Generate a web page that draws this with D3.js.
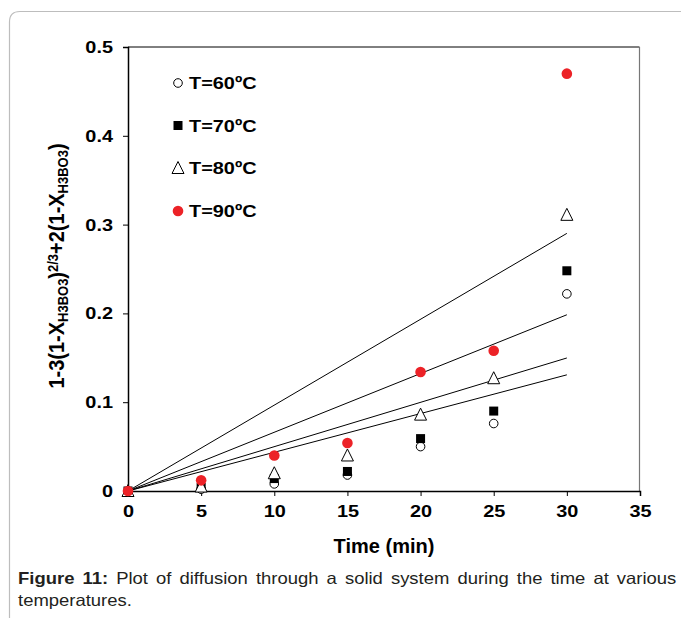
<!DOCTYPE html>
<html>
<head>
<meta charset="utf-8">
<script src="https://cdn.jsdelivr.net/npm/d3@7"></script>
<style>
  body { margin: 0; background: #fff; }
  svg { display: block; font-family: "Liberation Sans", Arial, sans-serif; }
</style>
</head>
<body>
<svg id="chart" width="681" height="621"></svg>
<script>
// data
const times = [0, 5, 10, 15, 20, 25, 30]
const t60 = [0, 0.002, 0.008, 0.018, 0.050, 0.076, 0.222]
const t70 = [0, 0.004, 0.014, 0.022, 0.059, 0.090, 0.248]
const t80 = [0, 0.005, 0.020, 0.040, 0.086, 0.127, 0.311]
const t90 = [0, 0.012, 0.040, 0.054, 0.134, 0.158, 0.470]
const seriesNames = ['T=60ºC', 'T=70ºC', 'T=80ºC', 'T=90ºC']
const xTicks = [0, 5, 10, 15, 20, 25, 30, 35]
const yTicks = [0, 0.1, 0.2, 0.3, 0.4, 0.5]

const series = [
  { name: seriesNames[0], values: t60, shape: 'circle' },
  { name: seriesNames[1], values: t70, shape: 'square' },
  { name: seriesNames[2], values: t80, shape: 'triangle' },
  { name: seriesNames[3], values: t90, shape: 'dot' }
]

const SX = 1.17 // the source figure is a little wider than tall in its lettering

const svg = d3.select('#chart')
const x = d3.scaleLinear([0, 35], [128, 640])
const y = d3.scaleLinear([0, 0.5], [491, 47])

// move x/y into a transform so the text can be stretched sideways
function stretch (sel, sx) {
  sel.each(function () {
    const el = d3.select(this)
    const tx = +el.attr('x') || 0
    const ty = +el.attr('y') || 0
    el.attr('x', null).attr('y', null)
      .attr('transform', `translate(${tx},${ty}) scale(${sx},1)`)
  })
}

// page frame
svg.append('path')
  .attr('d', 'M9.5,618 V22 Q9.5,11.5 20,11.5 H681')
  .attr('fill', 'none')
  .attr('stroke', '#bdbdbd')
  .attr('stroke-width', 1.2)

// plot box (top + right)
svg.append('line').attr('x1', 128).attr('x2', 639.5).attr('y1', 47).attr('y2', 47)
  .attr('stroke', '#000').attr('stroke-width', 1)
svg.append('line').attr('x1', 639.5).attr('x2', 639.5).attr('y1', 47).attr('y2', 491)
  .attr('stroke', '#777').attr('stroke-width', 1.2)

// axes
const yAxis = svg.append('g')
  .attr('transform', 'translate(128,0)')
  .call(d3.axisLeft(y).tickValues(yTicks).tickSize(5).tickPadding(10)
    .tickFormat(d => d === 0 ? '0' : d3.format('.1f')(d)))
const xAxis = svg.append('g')
  .attr('transform', 'translate(0,491)')
  .call(d3.axisBottom(x).tickValues(xTicks).tickSize(5).tickPadding(9))

;[xAxis, yAxis].forEach(g => {
  g.select('.domain').attr('stroke', '#000').attr('stroke-width', 1.5)
  g.selectAll('.tick line').attr('stroke', '#000')
  g.selectAll('.tick text')
    .attr('font-family', '"Liberation Sans", Arial, sans-serif')
    .attr('font-size', 17).attr('font-weight', 'bold').attr('fill', '#000')
    .call(stretch, SX)
})

// fitted lines through origin (least squares)
series.forEach(s => {
  const slope = d3.sum(times, (t, i) => t * s.values[i]) / d3.sum(times, t => t * t)
  svg.append('line')
    .attr('x1', x(0)).attr('y1', y(0))
    .attr('x2', x(30)).attr('y2', y(slope * 30))
    .attr('stroke', '#000').attr('stroke-width', 1)
})

function drawMarker (g, shape, cx, cy) {
  if (shape === 'circle') {
    g.append('circle').attr('cx', cx).attr('cy', cy).attr('r', 4.3)
      .attr('fill', '#fff').attr('stroke', '#000').attr('stroke-width', 1)
  } else if (shape === 'square') {
    g.append('rect').attr('x', cx - 4.5).attr('y', cy - 4.5).attr('width', 9).attr('height', 9)
      .attr('fill', '#000')
  } else if (shape === 'triangle') {
    g.append('path')
      .attr('d', `M${cx},${cy - 6.5} L${cx + 6},${cy + 5.5} L${cx - 6},${cy + 5.5} Z`)
      .attr('fill', '#fff').attr('stroke', '#000').attr('stroke-width', 1)
  } else {
    g.append('circle').attr('cx', cx).attr('cy', cy).attr('r', 5.3)
      .attr('fill', '#ec2227')
  }
}

// points
series.forEach(s => {
  const g = svg.append('g')
  times.forEach((t, i) => drawMarker(g, s.shape, x(t), y(s.values[i])))
})

// legend
const legendY = [83, 125.5, 168, 211]
series.forEach((s, i) => {
  const g = svg.append('g')
  drawMarker(g, s.shape, 178, legendY[i])
  g.append('text').attr('x', 189).attr('y', legendY[i] + 6)
    .attr('font-size', 17).attr('font-weight', 'bold').text(s.name)
    .call(stretch, SX)
})

// axis titles
svg.append('text').attr('x', 384).attr('y', 553).attr('text-anchor', 'middle')
  .attr('font-size', 20).attr('font-weight', 'bold').text('Time (min)')

const yTitle = svg.append('text')
  .attr('transform', 'translate(64,266) rotate(-90) scale(1,1.08)')
  .attr('text-anchor', 'middle')
  .attr('font-size', 20).attr('font-weight', 'bold')
const parts = [
  ['1-3(1-X', 0], ['H3BO3', -1], [')', 0], ['2/3', 1], ['+2(1-X', 0], ['H3BO3', -1], [')', 0]
]
parts.forEach(([txt, pos]) => {
  const ts = yTitle.append('tspan').text(txt)
  if (pos !== 0) {
    ts.attr('font-size', 13).attr('baseline-shift', pos > 0 ? '6' : '-4')
  }
})

// caption, first line justified to the frame width
const capSX = 1.12
const cap1 = svg.append('text').attr('x', 18).attr('y', 584)
  .attr('font-size', 16.5).attr('fill', '#231f20')
cap1.append('tspan').attr('font-weight', 'bold').text('Figure 11:')
cap1.append('tspan').text(' Plot of diffusion through a solid system during the time at various')
const natural = cap1.node().getComputedTextLength()
const spaces = 13
cap1.attr('word-spacing', Math.max(0, ((677 - 18) / capSX - natural) / spaces))
cap1.call(stretch, capSX)

svg.append('text').attr('x', 18).attr('y', 606)
  .attr('font-size', 16.5).attr('fill', '#231f20').text('temperatures.')
  .call(stretch, capSX)
</script>
</body>
</html>
